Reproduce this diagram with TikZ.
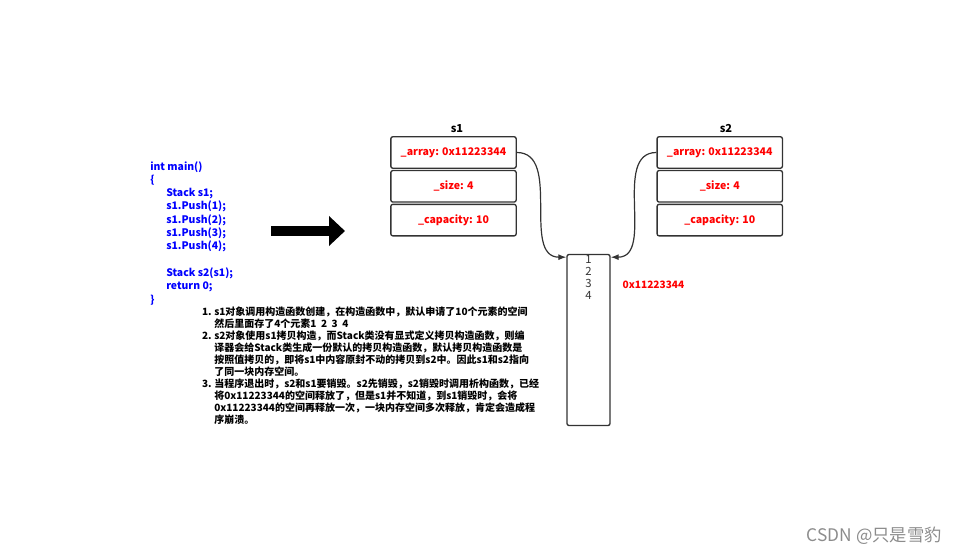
\documentclass[tikz,border=0pt]{standalone}
\usepackage{fontspec}
\setmainfont{Noto Sans CJK SC}
\usepackage{xcolor}
\usepackage{tikz}
\usetikzlibrary{
	positioning,						% Relative positioning of the fields
	arrows.meta							% Arrow tips
}
\definecolor{codeblue}{rgb}{0.0, 0.0, 1.0}
\definecolor{fieldred}{rgb}{1.0, 0.0, 0.0}
\definecolor{bordergray}{rgb}{0.2, 0.2, 0.2}

\begin{document}
\begin{tikzpicture}[x=0.75pt, y=-0.75pt]
		\tikzstyle{field} = [draw=bordergray, line width=1pt, rounded corners=1.5pt, minimum width=94pt, minimum height=23.6pt, inner sep=0pt, text=fieldred, font=\fontsize{7.9pt}{9pt}\selectfont\bfseries]
		\tikzstyle{memory} = [draw=bordergray, line width=1pt, rounded corners=1.5pt, minimum width=32.25pt, minimum height=128.25pt, inner sep=0pt]
		\tikzstyle{code} = [anchor=base west, inner sep=0pt, text=codeblue, font=\fontsize{7.8pt}{9pt}\selectfont\bfseries]
		\tikzstyle{note} = [inner sep=0pt, font=\fontsize{7.5pt}{9pt}\selectfont\bfseries]
		\tikzstyle{link} = [draw=bordergray, line width=0.9pt, -{Latex[length=6pt, width=4.5pt]}]
		
		\useasboundingbox (0,0) rectangle (956,560);
		
		% Source code
		\foreach \k/\indent/\txt in {0/0/int main(), 1/0/\{, 2/16/Stack s1;, 3/16/s1.Push(1);, 4/16/s1.Push(2);, 5/16/s1.Push(3);, 6/16/s1.Push(4);, 8/16/Stack s2(s1);, 9/16/return 0;, 10/0/\}}{
			\node[code] at (150+\indent, 170+13.3*\k) (codeLine\k) {\txt};
		}
		
		% Copy arrow
		\coordinate (copyTail) at (271,231);
		\coordinate (copyHead) at (345,231);
		\draw[line width=7.5pt, -{Triangle[width=21.75pt, length=12pt]}] (copyTail) -- (copyHead);
		
		% Object s1
		\node[field] at (453.5,152.5) (s1Array) {\_array: 0x11223344};
		\node[field, below=0.75pt of s1Array] (s1Size) {\_size: 4};
		\node[field, below=0.75pt of s1Size] (s1Cap) {\_capacity: 10};
		\node[note, font=\fontsize{8.25pt}{10pt}\selectfont\bfseries] at (457,129) (s1Title) {s1};
		
		% Object s2
		\node[field] at (719.75,152.5) (s2Array) {\_array: 0x11223344};
		\node[field, below=0.75pt of s2Array] (s2Size) {\_size: 4};
		\node[field, below=0.75pt of s2Size] (s2Cap) {\_capacity: 10};
		\node[note, font=\fontsize{8.25pt}{10pt}\selectfont\bfseries] at (726,129) (s2Title) {s2};
		
		% Heap block
		\node[memory] at (588.5,340) (memBlock) {};
		\foreach \val in {1, ..., 4}{
			\node[note, font=\fontsize{8.5pt}{9pt}\selectfont, text=bordergray] at (588.5, 247+12.2*\val) (memVal\val) {\val};
		}
		\node[note, text=fieldred, font=\fontsize{7.6pt}{9pt}\selectfont\bfseries] at (653.5,284.5) (memAddr) {0x11223344};
		
		%% Pointers
		\coordinate (memInLeft) at ([yshift=-2.5pt]memBlock.north west);
		\coordinate (memInRight) at ([yshift=-2.5pt]memBlock.north east);
		\draw[link] (s1Array.east) to [out=0, in=180] (memInLeft);
		\draw[link] (s2Array.west) to [out=180, in=0] (memInRight);
		
		% Notes
		\foreach \k/\num in {0/1., 2/2., 6/3.}{
			\node[note, anchor=base east] at (212, 315+12*\k) (noteNum\k) {\num};
		}
		\foreach \k/\txt in {
			0/s1对象调用构造函数创建，在构造函数中，默认申请了10个元素的空间,
			1/然后里面存了4个元素1\ \ 2\ \ 3\ \ 4,
			2/s2对象使用s1拷贝构造，而Stack类没有显式定义拷贝构造函数，则编,
			3/译器会给Stack类生成一份默认的拷贝构造函数，默认拷贝构造函数是,
			4/按照值拷贝的，即将s1中内容原封不动的拷贝到s2中。因此s1和s2指向,
			5/了同一块内存空间。,
			6/当程序退出时，s2和s1要销毁。s2先销毁，s2销毁时调用析构函数，已经,
			7/将0x11223344的空间释放了，但是s1并不知道，到s1销毁时，会将,
			8/0x11223344的空间再释放一次，一块内存空间多次释放，肯定会造成程,
			9/序崩溃。}{
			\node[note, anchor=base west] at (214, 315+12*\k) (noteLine\k) {\txt};
		}
		
		% Watermark
		\node[note, anchor=base east, text=black!45, font=\fontsize{13pt}{15pt}\selectfont] at (942,541) (csdnMark) {CSDN @只是雪豹};
	\end{tikzpicture}
\end{document}
